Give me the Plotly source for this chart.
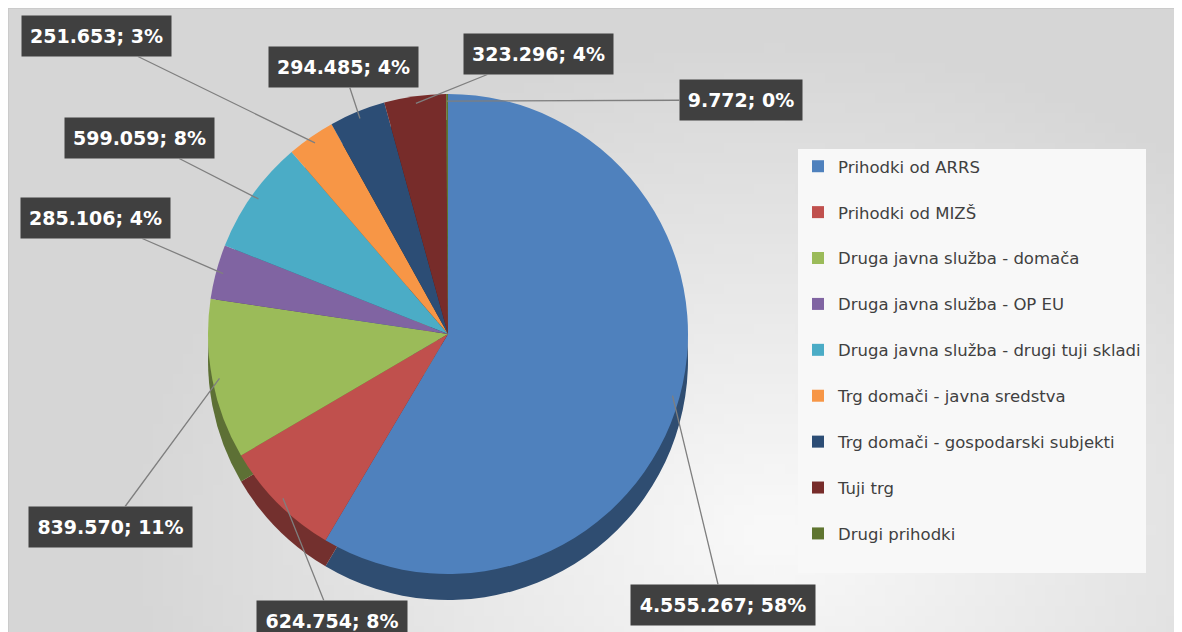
import math
import base64
import struct
import zlib
import plotly.graph_objects as go

# ---------------- data ----------------
categories = [
    "Prihodki od ARRS",
    "Prihodki od MIZŠ",
    "Druga javna služba - domača",
    "Druga javna služba - OP EU",
    "Druga javna služba - drugi tuji skladi",
    "Trg domači - javna sredstva",
    "Trg domači - gospodarski subjekti",
    "Tuji trg",
    "Drugi prihodki",
]
values = [4555267, 624754, 839570, 285106, 599059, 251653, 294485, 323296, 9772]
pct_labels = [58, 8, 11, 4, 8, 3, 4, 4, 0]
colors = ["#4F81BD", "#C0504D", "#9BBB59", "#8064A2", "#4BACC6",
          "#F79646", "#2C4D75", "#772C2A", "#5F7530"]

# ---------------- layout constants ----------------
W, H = 1182, 632
CX, CY, R, DEPTH = 440, 326, 240, 26
FONT = "DejaVu Sans"

# label box centres (pixels) and box widths
label_pos = [(715, 597), (324, 613), (102, 519), (87, 210), (131, 130),
             (88, 28), (335, 59), (530, 46), (733, 92)]
label_w = [180, 146, 159, 145, 145, 145, 145, 145, 118]


def darker(hexcol, f=0.6):
    h = hexcol.lstrip("#")
    r, g, b = (int(h[i:i + 2], 16) for i in (0, 2, 4))
    return "#%02x%02x%02x" % (int(r * f), int(g * f), int(b * f))


def domain(cx, cy, r):
    return dict(x=[(cx - r) / W, (cx + r) / W],
                y=[(H - cy - r) / H, (H - cy + r) / H])


def gradient_png(w=118, h=63):
    """Soft radial grey background (styling only)."""
    rows = b""
    for j in range(h):
        row = b"\x00"
        for i in range(w):
            x, y = i * W / w, j * H / h
            d = math.hypot((x - 760) / 1.3, (y - 520))
            v = int(max(214, min(248, 250 - 40 * d / 560)))
            row += bytes((v, v, v))
        rows += row

    def chunk(t, data):
        c = struct.pack(">I", len(data)) + t + data
        return c + struct.pack(">I", zlib.crc32(t + data) & 0xffffffff)

    png = b"\x89PNG\r\n\x1a\n" + chunk(b"IHDR", struct.pack(">IIBBBBB", w, h, 8, 2, 0, 0, 0))
    png += chunk(b"IDAT", zlib.compress(rows)) + chunk(b"IEND", b"")
    return "data:image/png;base64," + base64.b64encode(png).decode()


# legend entries get an empty second line -> wider row spacing
legend_labels = [c + "<br> " for c in categories]

fig = go.Figure()

# side ("depth") of the pseudo 3D pie
fig.add_trace(go.Pie(
    labels=legend_labels, values=values, sort=False, direction="clockwise",
    rotation=0, textinfo="none", hoverinfo="skip", showlegend=False,
    marker=dict(colors=[darker(c) for c in colors], line=dict(width=0)),
    domain=domain(CX, CY + DEPTH, R),
))
# top face
fig.add_trace(go.Pie(
    labels=legend_labels, values=values, sort=False, direction="clockwise",
    rotation=0, textinfo="none", hovertext=categories,
    hoverinfo="text+value+percent",
    marker=dict(colors=colors, line=dict(width=0)),
    domain=domain(CX, CY, R),
))

# data labels with leader lines
total = sum(values)
cum = 0
annotations = []
for v, p, (lx, ly), bw in zip(values, pct_labels, label_pos, label_w):
    theta = 2 * math.pi * (cum + v / 2) / total
    cum += v
    rr = R * 0.97
    px = CX + rr * math.sin(theta)
    py = CY - rr * math.cos(theta)
    txt = f"{v:,}".replace(",", ".") + f"; {p}%"
    annotations.append(dict(
        x=px / W, y=1 - py / H, xref="paper", yref="paper",
        ax=lx - px, ay=ly - py, axref="pixel", ayref="pixel",
        text=f"<b>{txt}</b>", showarrow=True, arrowhead=0,
        arrowwidth=1.3, arrowcolor="#7f7f7f", standoff=0,
        bgcolor="#404040", font=dict(family=FONT, size=19, color="white"),
        width=bw, height=36, borderpad=2, align="center",
    ))

fig.update_layout(
    width=W, height=H,
    margin=dict(l=0, r=0, t=0, b=0),
    paper_bgcolor="#e8e8e8",
    plot_bgcolor="#e8e8e8",
    font=dict(family=FONT, color="#404040"),
    annotations=annotations,
    images=[dict(source=gradient_png(), xref="paper", yref="paper", x=0, y=1,
                 sizex=1, sizey=1, xanchor="left", yanchor="top",
                 sizing="stretch", layer="below")],
    legend=dict(
        x=790 / W, y=1 - 141 / H, xanchor="left", yanchor="top",
        bgcolor="#f8f8f8", font=dict(family=FONT, size=16.5, color="#404040"),
        valign="top", itemclick=False, itemdoubleclick=False,
        tracegroupgap=0,
    ),
    shapes=[dict(type="rect", xref="paper", yref="paper", x0=0, y0=0, x1=1, y1=1,
                 line=dict(color="#c8c8c8", width=1.5), layer="above")],
)

fig.write_html("out.html")
